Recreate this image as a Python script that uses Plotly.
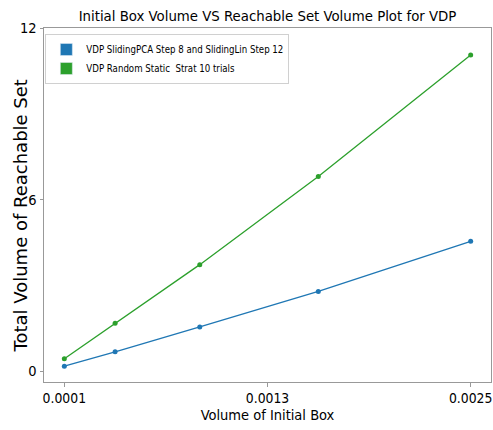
import plotly.graph_objects as go

initial_volume = [0.0001, 0.0004, 0.0009, 0.0016, 0.0025]
sliding_pca_volume = [0.175, 0.677, 1.55, 2.79, 4.54]
random_static_volume = [0.433, 1.676, 3.726, 6.81, 11.06]
x_ticks = [0.0001, 0.0013, 0.0025]
x_tick_labels = ["0.0001", "0.0013", "0.0025"]
y_ticks = [0, 6, 12]
y_tick_labels = ["0", "6", "12"]

series_names = ["VDP SlidingPCA Step 8 and SlidingLin Step 12",
                "VDP Random Static  Strat 10 trials"]
colors = ["#1f77b4", "#2ca02c"]

NARROW = "DejaVu Sans Condensed, DejaVu Sans, sans-serif"

W, H = 493, 430
L, R, T, B = 44, 2, 28, 48

fig = go.Figure()
for name, vals, col in zip(series_names, [sliding_pca_volume, random_static_volume], colors):
    fig.add_trace(go.Scatter(x=initial_volume, y=vals, mode="lines+markers",
                             line=dict(color=col, width=1.3),
                             marker=dict(color=col, size=5),
                             showlegend=False, name=name))
for name, col in zip(series_names, colors):
    fig.add_trace(go.Bar(x=[None], y=[None], name=name, marker_color=col, showlegend=True))

fig.update_layout(
    width=W, height=H,
    margin=dict(l=L, r=R, t=T, b=B, autoexpand=False),
    paper_bgcolor="white", plot_bgcolor="white",
    title=dict(text="Initial Box Volume VS Reachable Set Volume Plot for VDP",
               x=0.5, xref="paper", xanchor="center",
               y=1 - 15.5 / H, yref="container", yanchor="middle",
               font=dict(family=NARROW, size=14.8, color="black")),
    legend=dict(x=0.003, y=0.983, xanchor="left", yanchor="top",
                bgcolor="white", bordercolor="#d0d0d0", borderwidth=1,
                font=dict(family=NARROW, size=9.6, color="black"),
                tracegroupgap=0, itemwidth=30),
    xaxis=dict(range=[-0.00002, 0.00262], tickmode="array", tickvals=x_ticks,
               ticktext=x_tick_labels, showgrid=False, zeroline=False,
               showline=True, linecolor="#999999", linewidth=1, mirror=True,
               ticks="outside", ticklen=3.5, tickcolor="#999999",
               tickfont=dict(family=NARROW, size=13.8, color="black"),
               title=dict(text="Volume of Initial Box", standoff=4,
                          font=dict(family=NARROW, size=14.5, color="black"))),
    yaxis=dict(range=[-0.377, 12], tickmode="array", tickvals=y_ticks,
               ticktext=y_tick_labels, showgrid=False, zeroline=False,
               showline=True, linecolor="#999999", linewidth=1, mirror=True,
               ticks="outside", ticklen=3.5, tickcolor="#999999",
               tickfont=dict(family=NARROW, size=14.5, color="black")),
    annotations=[dict(text="Total Volume of Reachable Set", textangle=-90,
                      xref="paper", yref="paper", x=(19.5 - L) / (W - L - R),
                      y=0.5 - 11 / (H - T - B),
                      xanchor="center", yanchor="middle", showarrow=False,
                      font=dict(family="DejaVu Sans", size=18, color="black"))],
)

fig.write_html("out.html", config={"displayModeBar": False},
               post_script="document.body.style.margin='0';document.body.style.overflow='hidden';")
